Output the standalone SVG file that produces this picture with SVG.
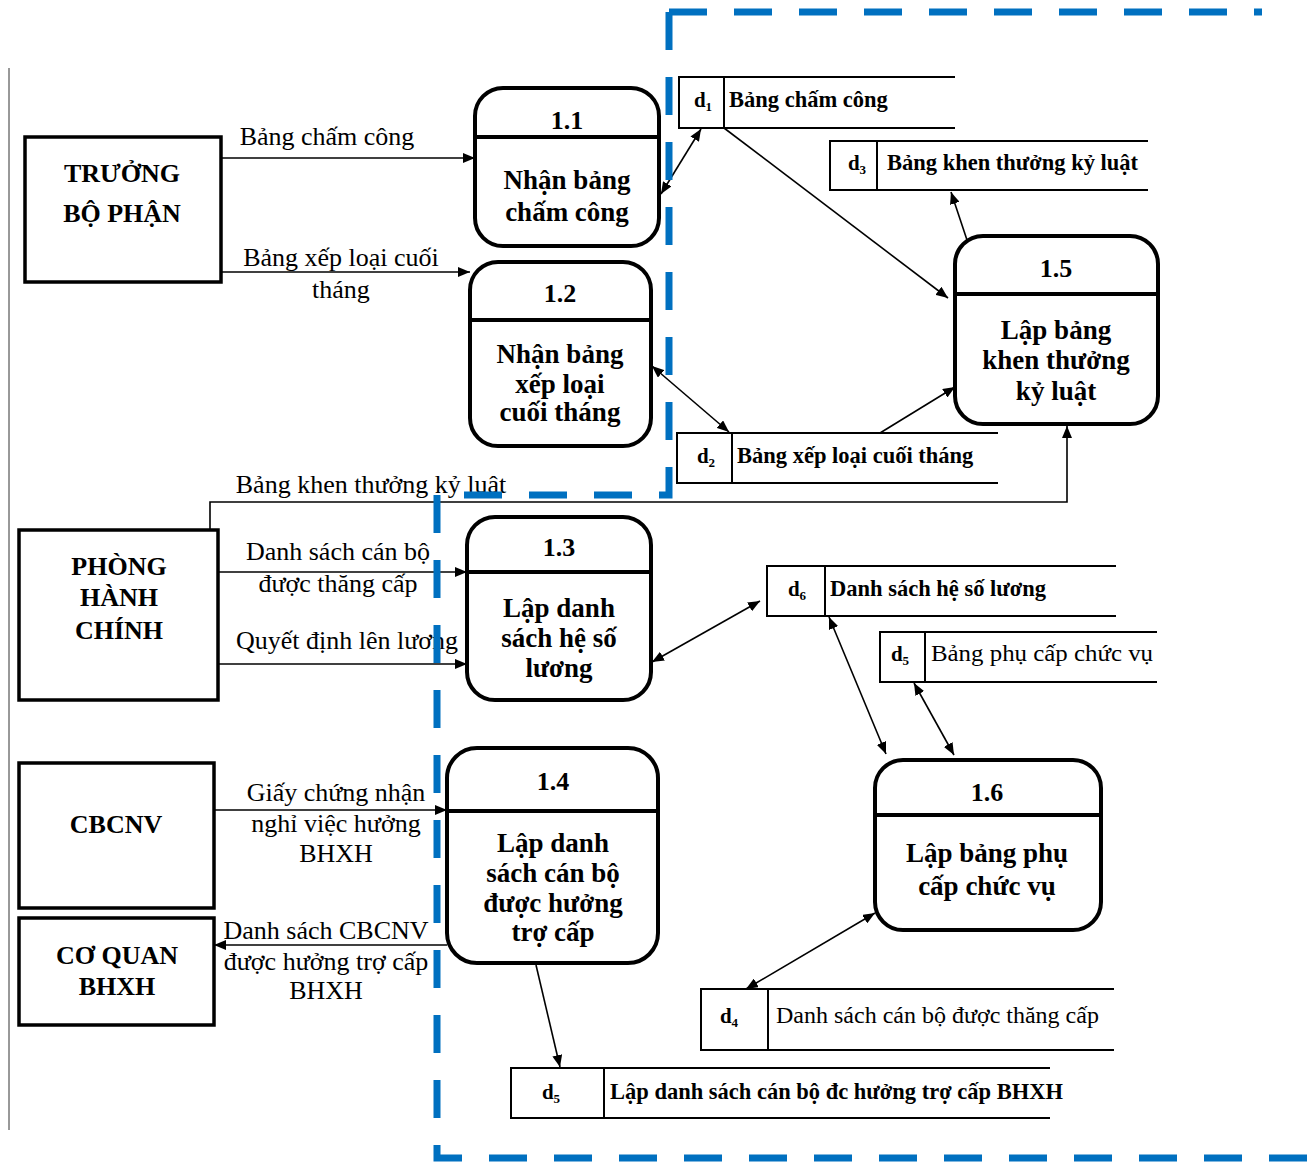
<svg xmlns="http://www.w3.org/2000/svg" width="1310" height="1162" viewBox="0 0 1310 1162">
  <style>
    text { font-family: "Liberation Serif", "Times New Roman", serif; fill: #000; }
    .ent { fill: #fff; stroke: #000; stroke-width: 3.5; }
    .proc { fill: #fff; stroke: #000; stroke-width: 4; }
    .div { stroke: #000; stroke-width: 4; }
    .store { fill: none; stroke: #000; stroke-width: 2; }
    .big { font-size: 26px; font-weight: bold; text-anchor: middle; }
    .pt { font-size: 27px; }
    .flab { font-size: 26px; text-anchor: middle; }
    .slab { font-size: 22.5px; font-weight: bold; }
    .slabr { font-size: 24px; }
    .sid { font-size: 21px; font-weight: bold; text-anchor: middle; }
    .sub { font-size: 13px; }
    .flow { fill: none; stroke: #000; stroke-width: 1.6; }
    .bound { fill: none; stroke: #0070C0; stroke-width: 7; stroke-dasharray: 38 27; }
  </style>
  <defs>
    <marker id="arr" markerUnits="userSpaceOnUse" markerWidth="12" markerHeight="10" refX="12" refY="5" orient="auto-start-reverse">
      <path d="M0,0 L12,5 L0,10 z" fill="#000"/>
    </marker>
  </defs>

  <rect width="1310" height="1162" fill="#fff"/>
  <line x1="9" y1="68" x2="9" y2="1130" stroke="#333" stroke-width="1"/>

  <!-- external entities -->
  <g id="truong-bo-phan">
    <rect class="ent" x="25" y="137" width="196" height="145"/>
    <text class="big" x="122" y="182">TRƯỞNG</text>
    <text class="big" x="122" y="222">BỘ PHẬN</text>
  </g>
  <g id="phong-hanh-chinh">
    <rect class="ent" x="19" y="530" width="199" height="170"/>
    <text class="big" x="119" y="575">PHÒNG</text>
    <text class="big" x="119" y="606">HÀNH</text>
    <text class="big" x="119" y="639">CHÍNH</text>
  </g>
  <g id="cbcnv">
    <rect class="ent" x="19" y="763" width="195" height="145"/>
    <text class="big" x="116" y="833">CBCNV</text>
  </g>
  <g id="co-quan-bhxh">
    <rect class="ent" x="19" y="918" width="195" height="107"/>
    <text class="big" x="117" y="964">CƠ QUAN</text>
    <text class="big" x="117" y="995">BHXH</text>
  </g>

  <!-- processes -->
  <g id="p1-1">
    <rect class="proc" x="475" y="88" width="184" height="158" rx="28"/>
    <line class="div" x1="475" y1="137" x2="659" y2="137"/>
    <text class="big" x="567" y="129">1.1</text>
    <text class="big pt" x="567" y="189">Nhận bảng</text>
    <text class="big pt" x="567" y="221">chấm công</text>
  </g>
  <g id="p1-2">
    <rect class="proc" x="470" y="262" width="181" height="184" rx="28"/>
    <line class="div" x1="470" y1="320" x2="651" y2="320"/>
    <text class="big" x="560" y="302">1.2</text>
    <text class="big pt" x="560" y="363">Nhận bảng</text>
    <text class="big pt" x="560" y="393">xếp loại</text>
    <text class="big pt" x="560" y="421">cuối tháng</text>
  </g>
  <g id="p1-5">
    <rect class="proc" x="955" y="236" width="203" height="188" rx="28"/>
    <line class="div" x1="955" y1="294" x2="1158" y2="294"/>
    <text class="big" x="1056" y="277">1.5</text>
    <text class="big pt" x="1056" y="339">Lập bảng</text>
    <text class="big pt" x="1056" y="369">khen thưởng</text>
    <text class="big pt" x="1056" y="400">kỷ luật</text>
  </g>
  <g id="p1-3">
    <rect class="proc" x="467" y="517" width="184" height="183" rx="28"/>
    <line class="div" x1="467" y1="572" x2="651" y2="572"/>
    <text class="big" x="559" y="556">1.3</text>
    <text class="big pt" x="559" y="617">Lập danh</text>
    <text class="big pt" x="559" y="647">sách hệ số</text>
    <text class="big pt" x="559" y="677">lương</text>
  </g>
  <g id="p1-4">
    <rect class="proc" x="447" y="748" width="211" height="215" rx="30"/>
    <line class="div" x1="447" y1="811" x2="658" y2="811"/>
    <text class="big" x="553" y="790">1.4</text>
    <text class="big pt" x="553" y="852">Lập danh</text>
    <text class="big pt" x="553" y="882">sách cán bộ</text>
    <text class="big pt" x="553" y="912">được hưởng</text>
    <text class="big pt" x="553" y="941">trợ cấp</text>
  </g>
  <g id="p1-6">
    <rect class="proc" x="875" y="760" width="226" height="170" rx="28"/>
    <line class="div" x1="875" y1="815" x2="1101" y2="815"/>
    <text class="big" x="987" y="801">1.6</text>
    <text class="big pt" x="987" y="862">Lập bảng phụ</text>
    <text class="big pt" x="987" y="895">cấp chức vụ</text>
  </g>

  <!-- data stores -->
  <g id="d1">
    <path class="store" d="M955,77 H679 V128 H955 M724,77 V128"/>
    <text class="sid" x="703" y="107">d<tspan class="sub" dy="4">1</tspan></text>
    <text class="slab" x="729" y="107">Bảng chấm công</text>
  </g>
  <g id="d3">
    <path class="store" d="M1148,141 H830 V190 H1148 M877,141 V190"/>
    <text class="sid" x="857" y="170">d<tspan class="sub" dy="4">3</tspan></text>
    <text class="slab" x="887" y="170">Bảng khen thưởng kỷ luật</text>
  </g>
  <g id="d2">
    <path class="store" d="M998,433 H677 V483 H998 M732,433 V483"/>
    <text class="sid" x="706" y="463">d<tspan class="sub" dy="4">2</tspan></text>
    <text class="slab" x="737" y="463">Bảng xếp loại cuối tháng</text>
  </g>
  <g id="d6">
    <path class="store" d="M1116,566 H767 V616 H1116 M825,566 V616"/>
    <text class="sid" x="797" y="596">d<tspan class="sub" dy="4">6</tspan></text>
    <text class="slab" x="830" y="596">Danh sách hệ số lương</text>
  </g>
  <g id="d5-phu-cap">
    <path class="store" d="M1157,632 H880 V682 H1157 M925,632 V682"/>
    <text class="sid" x="900" y="661">d<tspan class="sub" dy="4">5</tspan></text>
    <text class="slabr" x="931" y="661" textLength="222" lengthAdjust="spacingAndGlyphs">Bảng phụ cấp chức vụ</text>
  </g>
  <g id="d4">
    <path class="store" d="M1114,989 H701 V1050 H1114 M768,989 V1050"/>
    <text class="sid" x="729" y="1023">d<tspan class="sub" dy="4">4</tspan></text>
    <text class="slabr" x="776" y="1023">Danh sách cán bộ được thăng cấp</text>
  </g>
  <g id="d5-tro-cap">
    <path class="store" d="M1050,1068 H511 V1118 H1050 M604,1068 V1118"/>
    <text class="sid" x="551" y="1099">d<tspan class="sub" dy="4">5</tspan></text>
    <text class="slab" x="610" y="1099">Lập danh sách cán bộ đc hưởng trợ cấp BHXH</text>
  </g>

  <!-- data flows -->
  <g id="connectors">
    <line class="flow" x1="221" y1="158" x2="475" y2="158" marker-end="url(#arr)"/>
    <line class="flow" x1="221" y1="272" x2="470" y2="272" marker-end="url(#arr)"/>
    <line class="flow" x1="661" y1="194" x2="701" y2="129" marker-start="url(#arr)" marker-end="url(#arr)"/>
    <line class="flow" x1="724" y1="128" x2="948" y2="298" marker-end="url(#arr)"/>
    <line class="flow" x1="967" y1="240" x2="951" y2="192" marker-end="url(#arr)"/>
    <line class="flow" x1="652" y1="366" x2="729" y2="432" marker-start="url(#arr)" marker-end="url(#arr)"/>
    <line class="flow" x1="880" y1="433" x2="955" y2="387" marker-end="url(#arr)"/>
    <path class="flow" d="M210,530 V502 H1067 V426" marker-end="url(#arr)"/>
    <line class="flow" x1="218" y1="572" x2="467" y2="572" marker-end="url(#arr)"/>
    <line class="flow" x1="218" y1="664" x2="467" y2="664" marker-end="url(#arr)"/>
    <line class="flow" x1="652" y1="662" x2="760" y2="601" marker-start="url(#arr)" marker-end="url(#arr)"/>
    <line class="flow" x1="829" y1="617" x2="886" y2="754" marker-start="url(#arr)" marker-end="url(#arr)"/>
    <line class="flow" x1="914" y1="683" x2="954" y2="755" marker-start="url(#arr)" marker-end="url(#arr)"/>
    <line class="flow" x1="875" y1="913" x2="746" y2="989" marker-start="url(#arr)" marker-end="url(#arr)"/>
    <line class="flow" x1="214" y1="810" x2="447" y2="810" marker-end="url(#arr)"/>
    <line class="flow" x1="447" y1="945" x2="214" y2="945" stroke="#777" marker-end="url(#arr)"/>
    <line class="flow" x1="536" y1="965" x2="560" y2="1067" marker-end="url(#arr)"/>

    <text class="flab" x="327" y="145">Bảng chấm công</text>
    <text class="flab" x="341" y="266">Bảng xếp loại cuối</text>
    <text class="flab" x="341" y="298">tháng</text>
    <text class="flab" x="371" y="493">Bảng khen thưởng kỷ luật</text>
    <text class="flab" x="338" y="560">Danh sách cán bộ</text>
    <text class="flab" x="338" y="592">được thăng cấp</text>
    <text class="flab" x="347" y="649">Quyết định lên lương</text>
    <text class="flab" x="336" y="801">Giấy chứng nhận</text>
    <text class="flab" x="336" y="832">nghỉ việc hưởng</text>
    <text class="flab" x="336" y="862">BHXH</text>
    <text class="flab" x="326" y="939">Danh sách CBCNV</text>
    <text class="flab" x="326" y="970">được hưởng trợ cấp</text>
    <text class="flab" x="326" y="999">BHXH</text>
  </g>

  <!-- system boundary -->
  <path class="bound" d="M669,12 H1262"/>
  <path class="bound" d="M669,12 V495 H437 V1158 H1310"/>
</svg>
